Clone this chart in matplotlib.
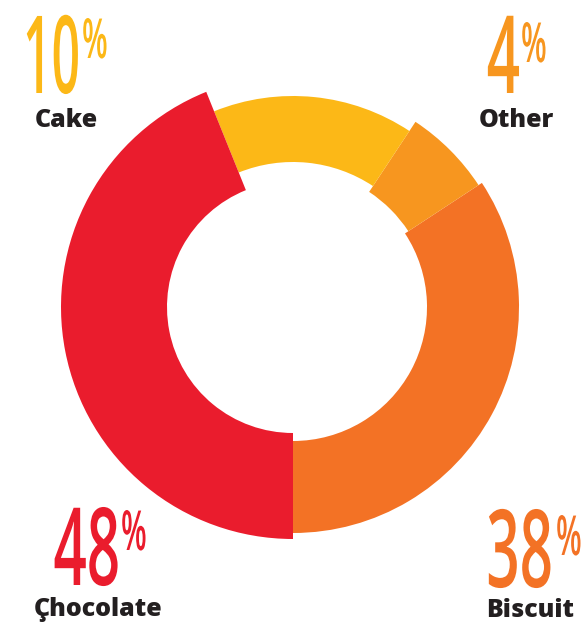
import matplotlib
matplotlib.use("Agg")
import matplotlib.pyplot as plt
from matplotlib.patches import Wedge
from matplotlib.patheffects import AbstractPathEffect
from matplotlib.transforms import Affine2D

# ---- data ----
categories = ["Biscuit", "Other", "Cake", "Chocolate"]
display_labels = ["Biscuit", "Other", "Cake", "Çhocolate"]
pct_values = [38, 4, 10, 48]
# slice shares as drawn in the picture (% of the full circle)
slice_shares = [34.25, 6.45, 15.4, 43.9]

# ---- styles ----
colors = ["#F37225", "#F7961F", "#FCB817", "#EA1C2D"]
outer_r = [226, 222, 211, 232]
inner_r = [134, 138, 145, 126]
W, H = 582, 623
cx, cy = 293, H - 307
start_angle = -90

# number: right edge x, baseline y ; percent sign: left edge x, baseline y
num_pos = {"Biscuit": (553, H - 587), "Other": (520, H - 93),
           "Cake": (80, H - 93), "Chocolate": (120, H - 585)}
num_size = {"Biscuit": 42, "Other": 42, "Cake": 36, "Chocolate": 42}
pc_pos = {"Biscuit": (556, H - 555), "Other": (521, H - 62),
          "Cake": (82, H - 58), "Chocolate": (121, H - 550)}
lab_pos = {"Biscuit": (530, H - 617), "Other": (516, H - 127),
           "Cake": (66, H - 127), "Chocolate": (98, H - 616)}
digit_px = 42 * 1.85  # target stretched size


class Stretch(AbstractPathEffect):
    """Stretch the glyphs vertically about the text baseline (tall, condensed look)."""
    def __init__(self, sy):
        super().__init__()
        self.sy = sy

    def draw_path(self, renderer, gc, tpath, affine, rgbFace=None):
        _, y0 = affine.transform([(0.0, 0.0)])[0]
        t = affine + Affine2D().translate(0, -y0).scale(1, self.sy).translate(0, y0)
        renderer.draw_path(gc, tpath, t, rgbFace)


fig = plt.figure(figsize=(W / 100, H / 100), dpi=100)
ax = fig.add_axes([0, 0, 1, 1])
ax.set_xlim(0, W)
ax.set_ylim(0, H)
ax.axis("off")

theta = start_angle
for cat, share, col, ro, ri in zip(categories, slice_shares, colors, outer_r, inner_r):
    span = share / 100 * 360
    ax.add_patch(Wedge((cx, cy), ro, theta, theta + span, width=ro - ri,
                       facecolor=col, edgecolor="none"))
    theta += span

num_font = ["Open Sans", "DejaVu Sans"]
lab_font = ["Open Sans", "DejaVu Sans"]
for cat, lab, pct, col in zip(categories, display_labels, pct_values, colors):
    x, y = num_pos[cat]
    fs = num_size[cat]
    ax.text(x, y, str(pct), ha="right", va="baseline", color=col,
            fontsize=fs, family=num_font, weight="semibold",
            path_effects=[Stretch(digit_px / fs)])
    x, y = pc_pos[cat]
    ax.text(x, y, "%", ha="left", va="baseline", color=col,
            fontsize=21.5, family=num_font, weight="semibold",
            path_effects=[Stretch(1.85)])
    x, y = lab_pos[cat]
    ax.text(x, y, lab, ha="center", va="baseline", color="#231F20",
            fontsize=18, family=lab_font, weight="heavy")

fig.savefig("out.png", dpi=100)
